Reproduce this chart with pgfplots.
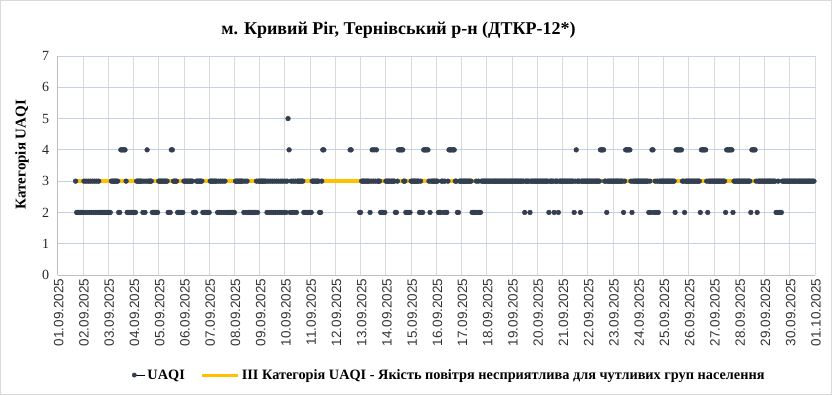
\documentclass[border=0pt]{standalone}
\usepackage{fontspec}
\setmainfont{Liberation Serif}
\newfontfamily\sansf{Liberation Sans}
\usepackage{pgfplots}
\usepackage{pgfplotstable}
\pgfplotsset{compat=1.18}
\definecolor{dot}{RGB}{51,63,80}
\definecolor{yel}{RGB}{255,192,0}
\definecolor{hgrid}{RGB}{196,208,232}
\definecolor{vgrid}{RGB}{217,217,217}
\definecolor{axl}{RGB}{191,191,191}
% UAQI, hourly values from 01.09 17:00 to 10.09 13:00
\pgfplotstableread[row sep=\\,header=false]{
3\\
2\\2\\2\\2\\2\\2\\
2\\3\\2\\3\\2\\3\\2\\3\\2\\3\\2\\3\\2\\3\\2\\3\\2\\
2\\2\\2\\2\\2\\2\\2\\2\\2\\2\\
3\\3\\3\\3\\3\\3\\3\\
2\\2\\
4\\4\\4\\4\\4\\
3\\
2\\2\\2\\2\\2\\2\\2\\2\\2\\
3\\3\\3\\3\\3\\3\\
2\\3\\2\\
3\\4\\3\\3\\3\\3\\
2\\2\\2\\2\\2\\2\\
3\\3\\3\\3\\3\\3\\3\\3\\3\\
2\\2\\2\\
4\\4\\
3\\3\\3\\3\\
2\\2\\2\\2\\2\\2\\
3\\3\\3\\3\\3\\3\\3\\3\\3\\
2\\2\\2\\
3\\3\\3\\3\\3\\3\\
2\\2\\2\\2\\2\\2\\2\\
3\\3\\3\\3\\3\\3\\3\\
2\\3\\2\\3\\2\\3\\2\\3\\2\\
2\\2\\2\\2\\2\\2\\2\\2\\
3\\3\\3\\3\\3\\3\\3\\3\\
2\\3\\2\\3\\2\\
2\\2\\2\\2\\2\\2\\2\\
3\\2\\3\\
3\\3\\3\\3\\3\\3\\3\\
2\\3\\2\\3\\2\\3\\2\\3\\2\\3\\2\\3\\2\\3\\2\\3\\2\\3\\2\\3\\
5\\4\\
2\\3\\2\\3\\2\\3\\2\\
3\\3\\3\\3\\3\\3\\
2\\2\\2\\2\\2\\2\\2\\2\\
3\\3\\3\\3\\3\\3\\3\\
2\\2\\
3\\
4\\4\\
}\dataA
% 12.09 14:00-15:00
\pgfplotstableread[row sep=\\,header=false]{
4\\4\\
}\dataB
% from 12.09 23:00 to 30.09 23:00
\pgfplotstableread[row sep=\\,header=false]{
2\\2\\
3\\3\\3\\3\\3\\3\\3\\3\\
2\\3\\
4\\3\\4\\3\\4\\
3\\3\\3\\
2\\2\\2\\2\\2\\
3\\3\\3\\3\\3\\3\\3\\3\\3\\
2\\2\\
3\\
4\\4\\4\\4\\4\\
3\\3\\
2\\2\\2\\2\\2\\
3\\3\\3\\3\\3\\3\\3\\3\\
2\\3\\2\\2\\
4\\4\\4\\4\\4\\
3\\2\\3\\3\\3\\3\\3\\3\\3\\
2\\2\\2\\
3\\3\\
2\\3\\2\\2\\
3\\
4\\4\\4\\4\\4\\4\\
3\\3\\
2\\2\\
3\\3\\3\\3\\3\\3\\3\\3\\3\\3\\3\\3\\
2\\2\\2\\2\\3\\2\\3\\2\\2\\
3\\3\\3\\3\\3\\3\\3\\3\\3\\3\\3\\3\\3\\3\\3\\3\\3\\3\\3\\3\\
3\\3\\3\\3\\3\\3\\3\\3\\3\\3\\3\\3\\3\\3\\3\\3\\3\\3\\3\\3\\3\\
2\\
3\\3\\3\\3\\
2\\
3\\3\\3\\3\\3\\3\\3\\3\\3\\3\\3\\3\\3\\3\\3\\3\\3\\
2\\3\\3\\3\\3\\2\\3\\3\\3\\2\\
3\\3\\3\\3\\3\\3\\3\\3\\3\\3\\3\\3\\3\\3\\
2\\3\\4\\3\\3\\3\\2\\
3\\3\\3\\3\\3\\3\\3\\3\\3\\3\\3\\3\\3\\3\\3\\3\\3\\3\\
4\\4\\4\\4\\
3\\3\\
2\\
3\\3\\3\\3\\3\\3\\3\\3\\3\\3\\3\\3\\3\\3\\3\\
2\\3\\4\\4\\4\\4\\4\\3\\2\\
3\\3\\3\\3\\3\\3\\3\\3\\3\\3\\3\\3\\3\\3\\3\\
2\\3\\2\\4\\4\\2\\3\\2\\3\\2\\
3\\3\\3\\3\\3\\3\\3\\3\\3\\3\\3\\3\\3\\3\\3\\
2\\4\\4\\4\\4\\4\\4\\3\\3\\2\\
3\\3\\3\\3\\3\\3\\3\\3\\3\\3\\3\\3\\3\\3\\
2\\4\\4\\4\\4\\4\\3\\2\\
3\\3\\3\\3\\3\\3\\3\\3\\3\\3\\3\\3\\3\\3\\3\\3\\
2\\4\\4\\4\\4\\4\\4\\2\\
3\\3\\3\\3\\3\\3\\3\\3\\3\\3\\3\\3\\3\\3\\3\\3\\
2\\4\\4\\4\\4\\3\\2\\
3\\3\\3\\3\\3\\3\\3\\3\\3\\3\\3\\3\\3\\3\\3\\3\\3\\
2\\2\\3\\2\\2\\2\\
3\\3\\3\\3\\3\\3\\3\\3\\3\\3\\3\\3\\3\\3\\3\\3\\3\\3\\3\\3\\3\\3\\3\\3\\3\\3\\3\\3\\3\\3\\3\\
}\dataC
\begin{document}
\begin{tikzpicture}
\begin{axis}[
  at={(57.7bp,120bp)}, anchor=south west,
  scale only axis, width=757.3bp, height=219bp,
  xmin=0, xmax=30, ymin=0, ymax=7,
  xtick={0,1,...,30},
  xticklabels={01.09.2025,02.09.2025,03.09.2025,04.09.2025,05.09.2025,06.09.2025,07.09.2025,08.09.2025,09.09.2025,10.09.2025,11.09.2025,12.09.2025,13.09.2025,14.09.2025,15.09.2025,16.09.2025,17.09.2025,18.09.2025,19.09.2025,20.09.2025,21.09.2025,22.09.2025,23.09.2025,24.09.2025,25.09.2025,26.09.2025,27.09.2025,28.09.2025,29.09.2025,30.09.2025,01.10.2025},
  ytick={0,1,...,7},
  xticklabel style={rotate=90, anchor=east, font=\sansf\fontsize{13.5bp}{15bp}\selectfont, color=black!80, xshift=0bp, yshift=-1bp},
  yticklabel style={font=\fontsize{14bp}{16bp}\selectfont, color=black!85, xshift=-5bp},
  /pgf/number format/assume math mode=true,
  major tick length=0pt,
  grid=major,
  x grid style={vgrid, line width=0.8bp},
  y grid style={hgrid, line width=0.8bp},
  axis x line*=bottom, axis y line*=left,
  axis line style={axl, line width=0.8bp},
  title={м. Кривий Ріг, Тернівський р-н (ДТКР-12*)},
  title style={font=\bfseries\fontsize{18bp}{20bp}\selectfont, at={(axis description cs:0.45,1.09)}, anchor=center},
  ylabel={Категорія UAQI},
  ylabel style={font=\bfseries\fontsize{15bp}{17bp}\selectfont, at={(axis description cs:-0.047,0.55)}, anchor=center},
  legend style={at={(axis description cs:0.517,-0.457)}, anchor=center, draw=none, fill=none,
    legend columns=2, font=\bfseries\fontsize{14.3bp}{16bp}\selectfont,
    /tikz/every even column/.append style={column sep=14bp}},
  clip=false,
]
\addplot[yel, line width=3.5bp, forget plot] coordinates {(0.7083,3) (29.9583,3)};
\addplot[only marks, mark=*, mark size=2.4bp, mark options={draw=dot, fill=dot}, forget plot]
  table[x expr={(\coordindex+17)/24}, y index=0] {\dataA};
\addplot[only marks, mark=*, mark size=2.4bp, mark options={draw=dot, fill=dot}, forget plot]
  table[x expr={(\coordindex+278)/24}, y index=0] {\dataB};
\addplot[only marks, mark=*, mark size=2.4bp, mark options={draw=dot, fill=dot}, forget plot]
  table[x expr={(\coordindex+287)/24}, y index=0] {\dataC};
\addlegendimage{legend image code/.code={\path (0bp,0bp) -- (12bp,0bp); \fill[dot] (1bp,0bp) circle (2.2bp);}}
\addlegendentry{UAQI}
\addlegendimage{legend image code/.code={\draw[yel, line width=3bp] (0bp,0bp) -- (36bp,0bp);}}
\addlegendentry{ІІІ Категорія UAQI - Якість повітря несприятлива для чутливих груп населення}
\end{axis}
\pgfresetboundingbox
\useasboundingbox (0,0) rectangle (832bp,395bp);
\draw[vgrid, line width=1bp] (0.5bp,0.5bp) rectangle (831.5bp,394.5bp);
\end{tikzpicture}
\end{document}
